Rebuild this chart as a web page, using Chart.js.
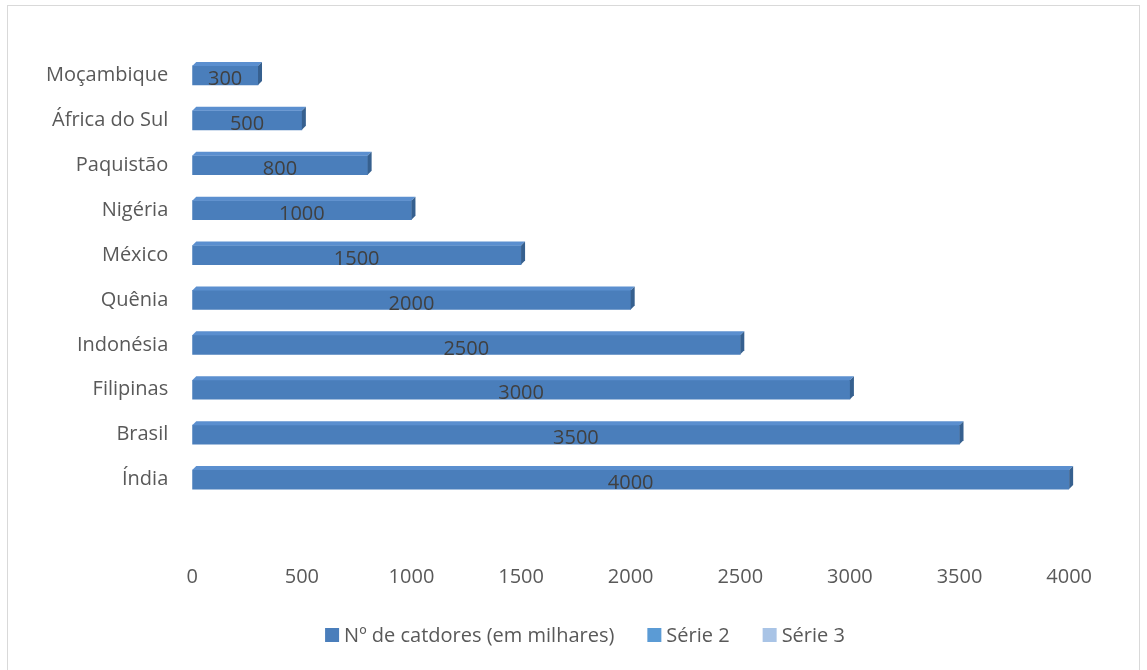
<!DOCTYPE html>
<html>
<head>
<meta charset="utf-8">
<script src="https://cdn.jsdelivr.net/npm/chart.js@4.4.0/dist/chart.umd.min.js"></script>
<style>
  html, body { margin: 0; padding: 0; background: #fff; }
  #wrap { position: relative; width: 1147px; height: 670px; }
  #frame { position: absolute; left: 7px; top: 5px; width: 1133px; height: 670px; border: 1px solid #d9d9d9; box-sizing: border-box; }
  canvas { position: absolute; left: 0; top: 0; }
</style>
</head>
<body>
<div id="wrap">
  <div id="frame"></div>
  <canvas id="catChart" width="1147" height="670"></canvas>
</div>
<script>
// Dados do gráfico
const paises = ['Moçambique', 'África do Sul', 'Paquistão', 'Nigéria', 'México', 'Quênia', 'Indonésia', 'Filipinas', 'Brasil', 'Índia'];
const catadores = [300, 500, 800, 1000, 1500, 2000, 2500, 3000, 3500, 4000];
const serie2 = [];
const serie3 = [];
const nomesSeries = ['Nº de catdores (em milhares)', 'Série 2', 'Série 3'];
const coresSeries = ['#4a7ebb', '#5b9bd5', '#a9c4e6'];

const textColor = '#595959';
const fontFamily = "'Open Sans', 'Liberation Sans', sans-serif";
const fontSize = 20;

// efeito 3D simples (topo e lateral) + rótulos de dados
const bar3d = {
    id: 'bar3d',
    afterDatasetsDraw(chart) {
        const ctx = chart.ctx;
        const meta = chart.getDatasetMeta(0);
        const d = 4;
        meta.data.forEach((bar, i) => {
            const h = bar.height;
            const top = bar.y - h / 2;
            const bottom = bar.y + h / 2;
            // topo
            ctx.fillStyle = '#5b8fcf';
            ctx.beginPath();
            ctx.moveTo(bar.base, top);
            ctx.lineTo(bar.base + d, top - d);
            ctx.lineTo(bar.x + d, top - d);
            ctx.lineTo(bar.x, top);
            ctx.closePath();
            ctx.fill();
            // lateral
            ctx.fillStyle = '#36608f';
            ctx.beginPath();
            ctx.moveTo(bar.x, top);
            ctx.lineTo(bar.x + d, top - d);
            ctx.lineTo(bar.x + d, bottom - d);
            ctx.lineTo(bar.x, bottom);
            ctx.closePath();
            ctx.fill();
            // rótulo
            ctx.fillStyle = '#404040';
            ctx.font = fontSize + 'px ' + fontFamily;
            ctx.textAlign = 'center';
            ctx.textBaseline = 'middle';
            ctx.fillText(String(catadores[i]), (bar.base + bar.x) / 2, bar.y + 4);
        });
    }
};

// legenda estilo Excel (itens mais espaçados)
const legendaExcel = {
    id: 'legendaExcel',
    afterDraw(chart) {
        const ctx = chart.ctx;
        const ds = chart.data.datasets;
        const box = 14, gapBox = 5, gapItem = 33;
        ctx.font = fontSize + 'px ' + fontFamily;
        const widths = ds.map(d => box + gapBox + ctx.measureText(d.label).width);
        const total = widths.reduce((a, b) => a + b, 0) + gapItem * (ds.length - 1);
        let x = 585 - total / 2;
        const y = 635;
        ds.forEach((d, i) => {
            ctx.fillStyle = d.backgroundColor;
            ctx.fillRect(x, y - box / 2, box, box);
            ctx.fillStyle = textColor;
            ctx.textAlign = 'left';
            ctx.textBaseline = 'middle';
            ctx.fillText(d.label, x + box + gapBox, y + 1);
            x += widths[i] + gapItem;
        });
    }
};

const ctx = document.getElementById('catChart').getContext('2d');
new Chart(ctx, {
    type: 'bar',
    data: {
        labels: paises,
        datasets: [
            { label: nomesSeries[0], data: catadores, backgroundColor: coresSeries[0], grouped: false, barThickness: 19 },
            { label: nomesSeries[1], data: serie2, backgroundColor: coresSeries[1], grouped: false },
            { label: nomesSeries[2], data: serie3, backgroundColor: coresSeries[2], grouped: false }
        ]
    },
    options: {
        indexAxis: 'y',
        responsive: false,
        animation: false,
        layout: { padding: { top: 53, left: 30, right: 62, bottom: 57 } },
        plugins: {
            legend: { display: false },
            tooltip: { enabled: false }
        },
        scales: {
            x: {
                min: 0,
                max: 4000,
                grid: { display: false },
                border: { display: false },
                afterFit: scale => { scale.height = 111; },
                ticks: {
                    stepSize: 500,
                    color: textColor,
                    font: { size: fontSize, family: fontFamily },
                    padding: 55,
                    maxRotation: 0,
                    callback: v => String(v)
                }
            },
            y: {
                grid: { display: false },
                border: { display: false },
                ticks: { color: textColor, font: { size: fontSize, family: fontFamily }, padding: 16 }
            }
        }
    },
    plugins: [bar3d, legendaExcel]
});
</script>
</body>
</html>
